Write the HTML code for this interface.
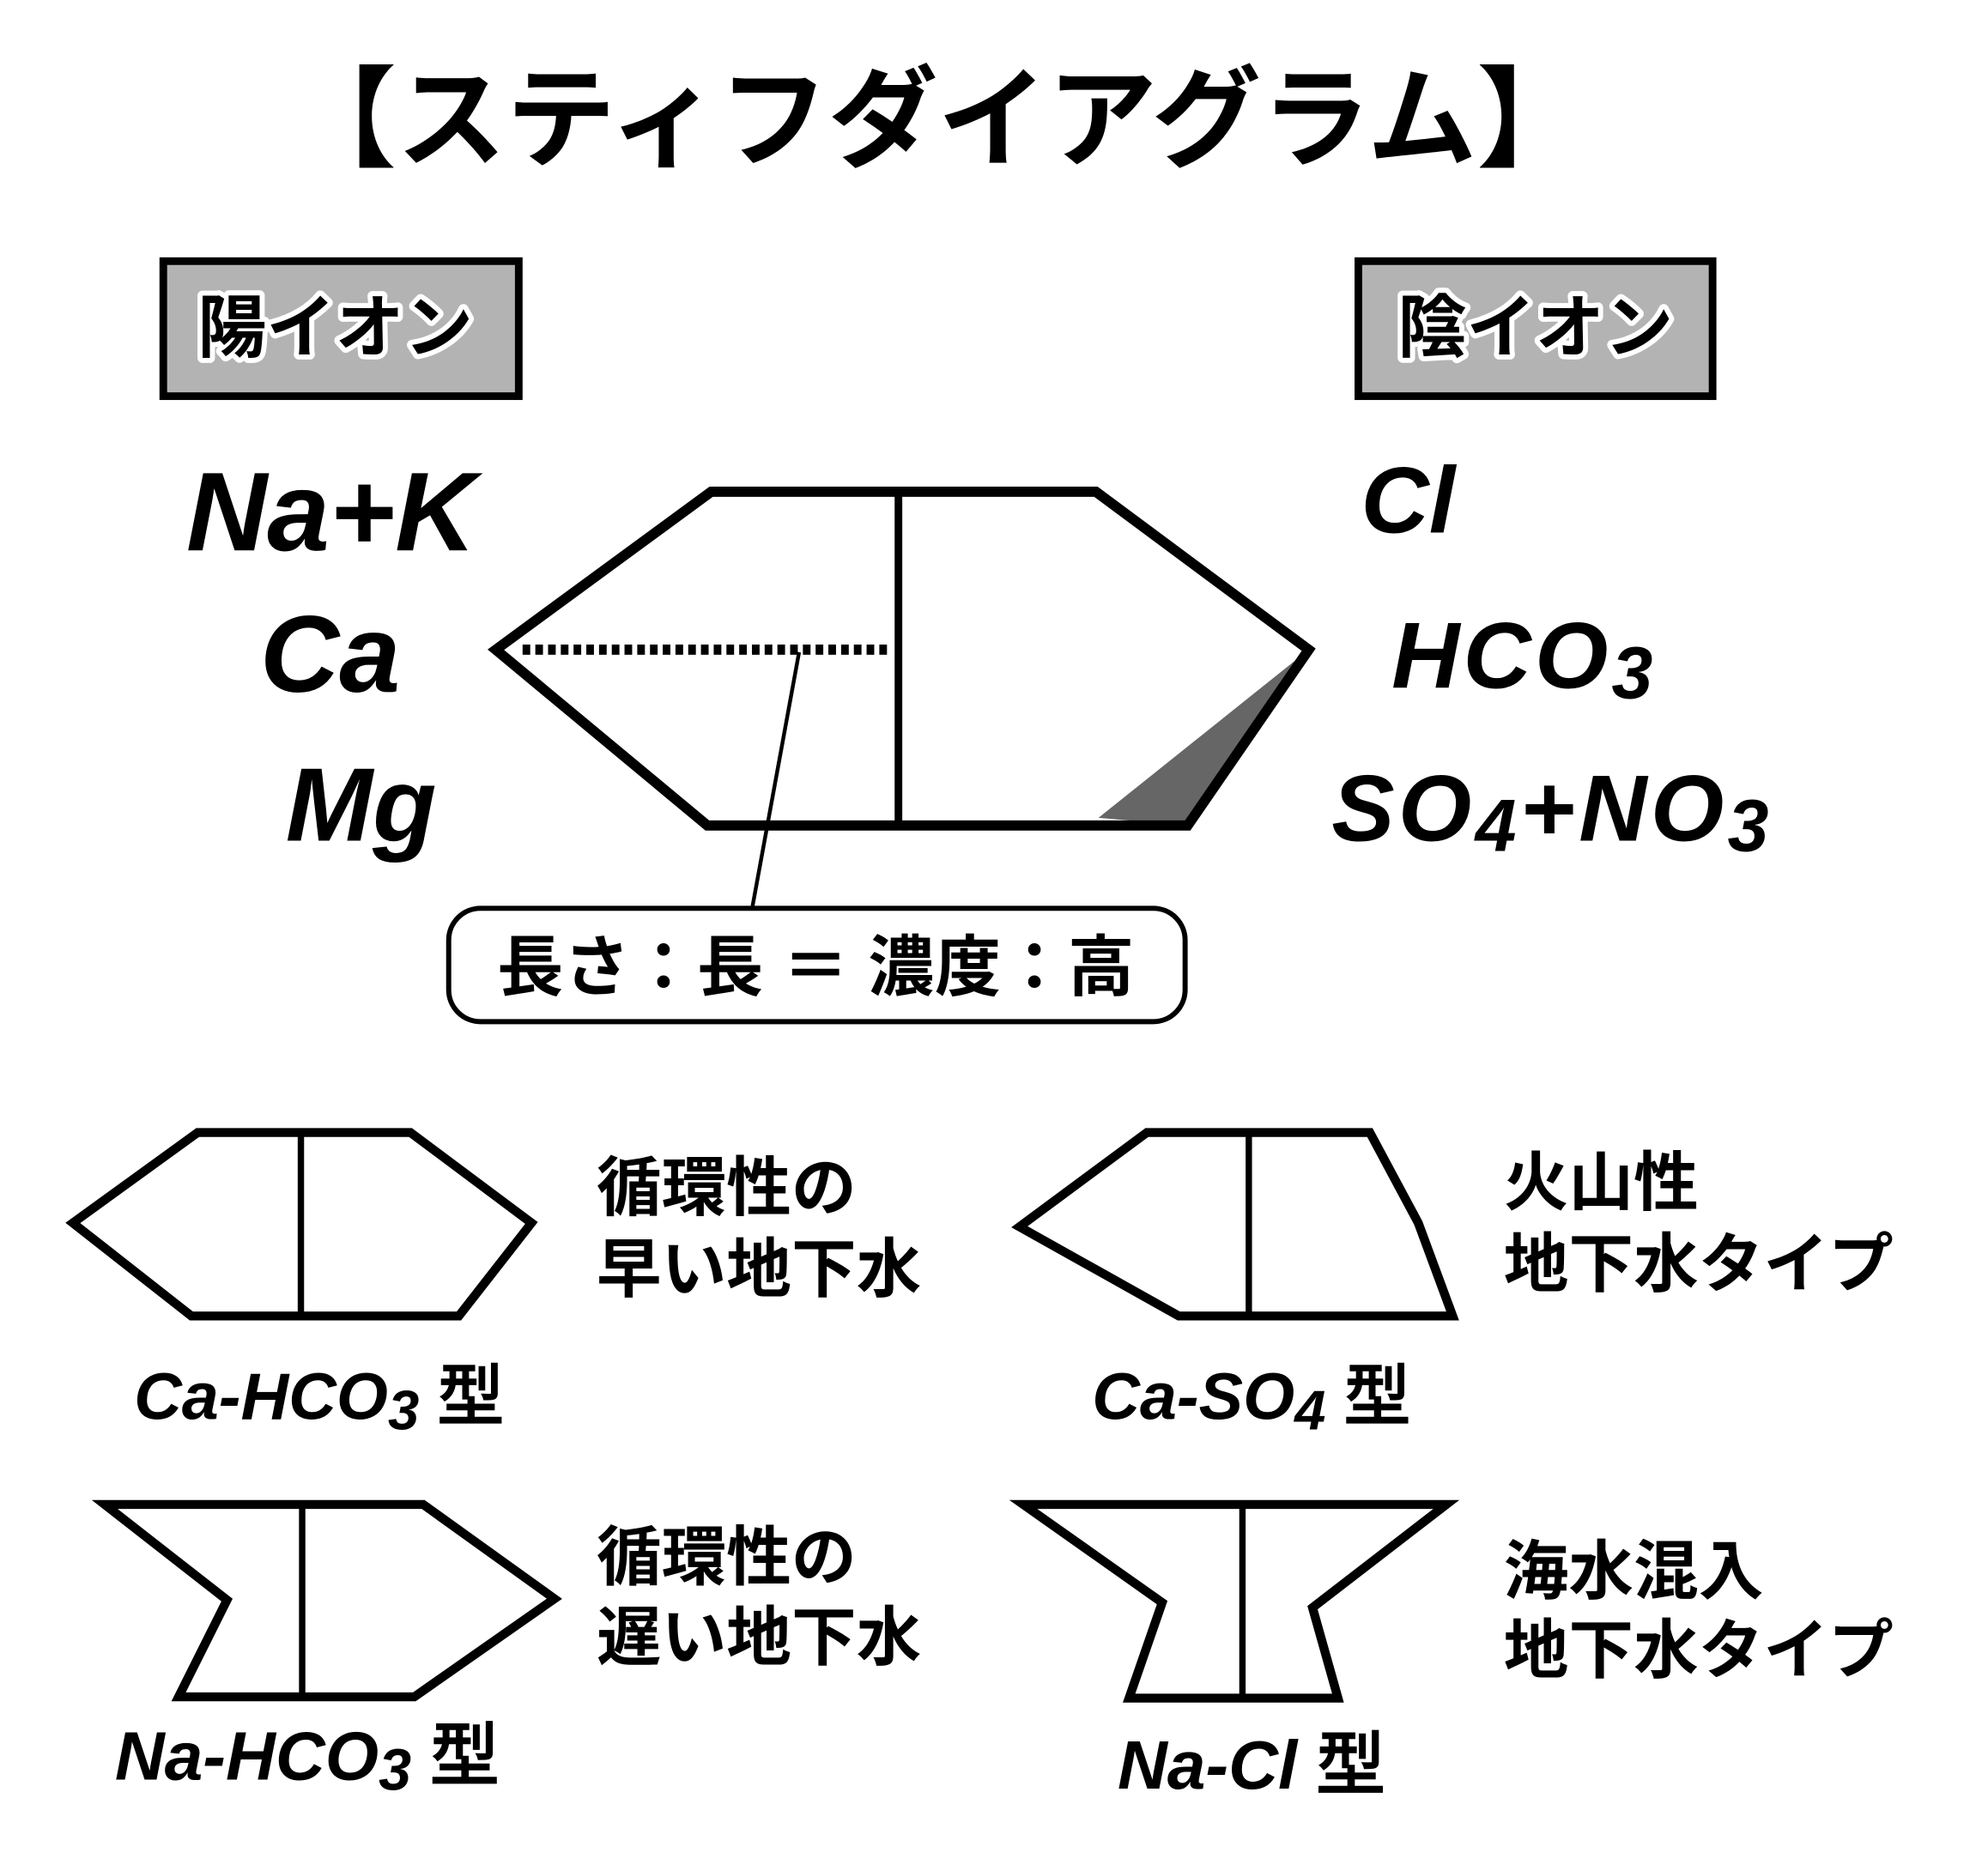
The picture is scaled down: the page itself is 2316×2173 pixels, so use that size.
<!DOCTYPE html>
<html><head><meta charset="utf-8"><style>
html,body{margin:0;padding:0;background:#fff;width:2316px;height:2173px;overflow:hidden}
svg{display:block}
.jp{font-family:"Liberation Sans","Noto Sans CJK JP",sans-serif}
.ion{font-family:"Liberation Sans",sans-serif;font-weight:bold;font-style:italic}
</style></head><body>
<svg width="2316" height="2173" viewBox="0 0 1560 1464" xmlns="http://www.w3.org/2000/svg">
<rect width="1560" height="1464" fill="#fff"/>
<text x="735" y="124" text-anchor="middle" class="jp" font-size="86" font-weight="bold">【スティフダイアグラム】</text>

<rect x="128" y="205" width="279" height="106" fill="#b3b3b3" stroke="#000" stroke-width="6"/>
<text x="263" y="276" text-anchor="middle" class="jp" font-size="54" font-weight="bold" fill="#000" stroke="#fff" stroke-width="8" paint-order="stroke" stroke-linejoin="round">陽イオン</text>
<rect x="1066" y="205" width="278" height="106" fill="#b3b3b3" stroke="#000" stroke-width="6"/>
<text x="1205" y="276" text-anchor="middle" class="jp" font-size="54" font-weight="bold" fill="#000" stroke="#fff" stroke-width="8" paint-order="stroke" stroke-linejoin="round">陰イオン</text>

<text x="146" y="432" class="ion" font-size="88">Na+K</text>
<text x="204" y="543" class="ion" font-size="86">Ca</text>
<text x="224" y="660" class="ion" font-size="82">Mg</text>
<text x="1068" y="418" class="ion" font-size="74">Cl</text>
<text x="1092" y="540" class="ion" font-size="74" textLength="205">HCO<tspan font-size="58" dy="8">3</tspan></text>
<text x="1045" y="660" class="ion" font-size="74" textLength="343">SO<tspan font-size="58" dy="8">4</tspan><tspan dy="-8">+NO</tspan><tspan font-size="58" dy="8">3</tspan></text>

<polygon points="1027,510 932,648 862,642" fill="#666"/>
<polygon points="558,386 860,386 1027,510 932,648 555,648 389,510" fill="none" stroke="#000" stroke-width="8" stroke-linejoin="miter"/>
<line x1="705" y1="386" x2="705" y2="648" stroke="#000" stroke-width="6"/>
<line x1="410" y1="510" x2="696" y2="510" stroke="#000" stroke-width="8" stroke-dasharray="6,4"/>
<line x1="627" y1="512" x2="590" y2="714" stroke="#000" stroke-width="3"/>
<rect x="352" y="713" width="578" height="89" rx="25" fill="#fff" stroke="#000" stroke-width="4"/>
<text x="390" y="777" class="jp" font-size="52" font-weight="bold" textLength="500">長さ：長 ＝ 濃度：高</text>

<g fill="none" stroke="#000" stroke-width="7">
<polygon points="155,889 322,889 417,960 360,1033 150,1033 57,960"/>
<line x1="236" y1="889" x2="236" y2="1033" stroke-width="5"/>
<polygon points="900,889 1075,889 1113,960 1140,1033 925,1033 800,963"/>
<line x1="980" y1="889" x2="980" y2="1033" stroke-width="5"/>
<polygon points="82,1181 332,1181 435,1255 325,1332 140,1332 178,1256"/>
<line x1="237" y1="1181" x2="237" y2="1332" stroke-width="5"/>
<polygon points="803,1181 1135,1181 1030,1262 1050,1333 886,1333 912,1258"/>
<line x1="975" y1="1181" x2="975" y2="1333" stroke-width="5"/>
</g>

<text x="105" y="1114" class="ion" font-size="52">Ca-HCO<tspan font-size="44" dy="8">3</tspan><tspan dy="-8" font-style="normal"> 型</tspan></text>
<text x="857" y="1114" class="ion" font-size="52">Ca-SO<tspan font-size="44" dy="8">4</tspan><tspan dy="-8" font-style="normal"> 型</tspan></text>
<text x="90" y="1397" class="ion" font-size="54">Na-HCO<tspan font-size="46" dy="8">3</tspan><tspan dy="-8" font-style="normal"> 型</tspan></text>
<text x="877" y="1404" class="ion" font-size="54">Na-Cl<tspan font-style="normal"> 型</tspan></text>

<g class="jp" font-size="51" font-weight="bold">
<text x="468" y="950">循環性の</text>
<text x="468" y="1014">早い地下水</text>
<text x="1180" y="946">火山性</text>
<text x="1180" y="1010">地下水タイプ</text>
<text x="468" y="1240">循環性の</text>
<text x="468" y="1303">遅い地下水</text>
<text x="1180" y="1251">海水混入</text>
<text x="1180" y="1313">地下水タイプ</text>
</g>
</svg>
</body></html>
